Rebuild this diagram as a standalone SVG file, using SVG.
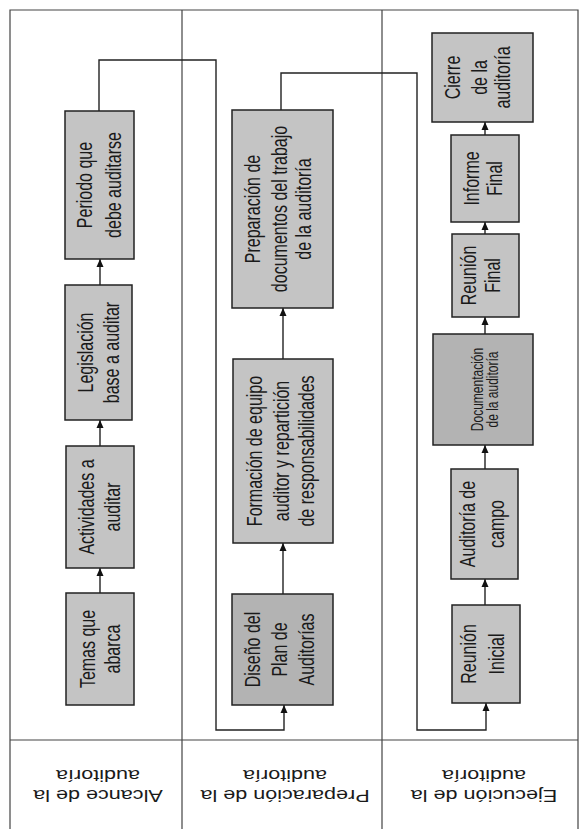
<svg xmlns="http://www.w3.org/2000/svg" width="581" height="829" viewBox="0 0 581 829">
<style>
.frame{fill:none;stroke:#444;stroke-width:1.2}
.box{fill:#c4c4c4;stroke:#222;stroke-width:1.5}
.dark{fill:#b3b3b3}
.conn{fill:none;stroke:#222;stroke-width:1.4}
.t{font-family:"Liberation Sans",Arial,sans-serif;font-size:16px;fill:#1a1a1a;text-anchor:middle}
.s{font-size:12px}
</style>
<defs>
<marker id="ah" markerUnits="userSpaceOnUse" markerWidth="8" markerHeight="8" refX="8" refY="4" orient="auto">
<path d="M0,0.5 L8,4 L0,7.5 z" fill="#111"/>
</marker>
</defs>
<rect width="581" height="829" fill="#fff"/>
<g id="frame">
<path class="frame" d="M10,829 V10 H578 V829 M182,10 V829 M382,10 V829 M10,740 H578"/>
</g>
<g id="headers">
<text class="t" transform="translate(98,785) rotate(180) scale(1.35,1)"><tspan x="0" y="-5.2">Alcance de la</tspan><tspan x="0" y="14.8">auditoría</tspan></text>
<text class="t" transform="translate(285,785) rotate(180) scale(1.35,1)"><tspan x="0" y="-5.2">Preparación de la</tspan><tspan x="0" y="14.8">auditoría</tspan></text>
<text class="t" transform="translate(484,785) rotate(180) scale(1.35,1)"><tspan x="0" y="-5.2">Ejecución de la</tspan><tspan x="0" y="14.8">auditoría</tspan></text>
</g>
<g id="connectors">
<line class="conn" x1="100" y1="593" x2="100" y2="568" marker-end="url(#ah)"/>
<line class="conn" x1="100" y1="446" x2="100" y2="420" marker-end="url(#ah)"/>
<line class="conn" x1="100" y1="285" x2="100" y2="259" marker-end="url(#ah)"/>
<path class="conn" d="M99,111 V60 H216 V730 H284 V705" marker-end="url(#ah)"/>
<line class="conn" x1="283" y1="594" x2="283" y2="543" marker-end="url(#ah)"/>
<line class="conn" x1="283" y1="359" x2="283" y2="308" marker-end="url(#ah)"/>
<path class="conn" d="M281,110 V73 H417 V730 H486 V703" marker-end="url(#ah)"/>
<line class="conn" x1="485" y1="605" x2="485" y2="579" marker-end="url(#ah)"/>
<line class="conn" x1="485" y1="469" x2="485" y2="445" marker-end="url(#ah)"/>
<line class="conn" x1="485" y1="334" x2="485" y2="317" marker-end="url(#ah)"/>
<line class="conn" x1="485" y1="234" x2="485" y2="222" marker-end="url(#ah)"/>
<line class="conn" x1="485" y1="135" x2="485" y2="122" marker-end="url(#ah)"/>
</g>
<g id="temas">
<rect class="box" x="66" y="593" width="68" height="112"/>
<text class="t" transform="translate(100,649) rotate(-90) scale(1,1.35)"><tspan x="0" y="-3.5">Temas que</tspan><tspan x="0" y="14.6">abarca</tspan></text>
</g>
<g id="actividades">
<rect class="box" x="66" y="446" width="68" height="122"/>
<text class="t" transform="translate(100,507) rotate(-90) scale(1,1.35)"><tspan x="0" y="-4.1">Actividades a</tspan><tspan x="0" y="14.6">auditar</tspan></text>
</g>
<g id="legislacion">
<rect class="box" x="65" y="285" width="67" height="135"/>
<text class="t" transform="translate(99,352.5) rotate(-90) scale(1,1.35)"><tspan x="0" y="-4.4">Legislación</tspan><tspan x="0" y="15">base a auditar</tspan></text>
</g>
<g id="periodo">
<rect class="box" x="65" y="111" width="69" height="148"/>
<text class="t" transform="translate(100,185) rotate(-90) scale(1,1.35)"><tspan x="0" y="-5.6">Periodo que</tspan><tspan x="0" y="15.2">debe auditarse</tspan></text>
</g>
<g id="diseno">
<rect class="box dark" x="232" y="594" width="101" height="111"/>
<text class="t" transform="translate(283,649.5) rotate(-90) scale(1,1.35)"><tspan x="0" y="-16.7">Diseño del</tspan><tspan x="0" y="3.3">Plan de</tspan><tspan x="0" y="22.6">Auditorías</tspan></text>
</g>
<g id="formacion">
<rect class="box" x="233" y="359" width="100" height="184"/>
<text class="t" transform="translate(283,451) rotate(-90) scale(1,1.35)"><tspan x="0" y="-15.6">Formación de equipo</tspan><tspan x="0" y="4.1">auditor y repartición</tspan><tspan x="0" y="22.6">de responsabilidades</tspan></text>
</g>
<g id="preparacion">
<rect class="box" x="232" y="110" width="101" height="198"/>
<text class="t" transform="translate(283,209) rotate(-90) scale(1,1.35)"><tspan x="0" y="-16.7">Preparación de</tspan><tspan x="0" y="2.6">documentos del trabajo</tspan><tspan x="0" y="21.1">de la auditoría</tspan></text>
</g>
<g id="reunion-inicial">
<rect class="box" x="452" y="605" width="68" height="98"/>
<text class="t" transform="translate(486,654) rotate(-90) scale(1,1.35)"><tspan x="0" y="-7.1">Reunión</tspan><tspan x="0" y="13">Inicial</tspan></text>
</g>
<g id="auditoria-campo">
<rect class="box" x="451" y="469" width="67" height="110"/>
<text class="t" transform="translate(484.5,524) rotate(-90) scale(1,1.35)"><tspan x="0" y="-7.4">Auditoría de</tspan><tspan x="0" y="14.1">campo</tspan></text>
</g>
<g id="documentacion">
<rect class="box dark" x="433" y="334" width="100" height="111"/>
<text class="t s" transform="translate(483,389.5) rotate(-90) scale(1,1.35)"><tspan x="0" y="-0.1">Documentación</tspan><tspan x="0" y="11">de la auditoría</tspan></text>
</g>
<g id="reunion-final">
<rect class="box" x="452" y="234" width="67" height="83"/>
<text class="t" transform="translate(485.5,275.5) rotate(-90) scale(1,1.35)"><tspan x="0" y="-6.7">Reunión</tspan><tspan x="0" y="11.1">Final</tspan></text>
</g>
<g id="informe-final">
<rect class="box" x="451" y="135" width="68" height="87"/>
<text class="t" transform="translate(485,178.5) rotate(-90) scale(1,1.35)"><tspan x="0" y="-4.1">Informe</tspan><tspan x="0" y="12.9">Final</tspan></text>
</g>
<g id="cierre">
<rect class="box" x="432" y="33" width="101" height="89"/>
<text class="t" transform="translate(482.5,77.5) rotate(-90) scale(1,1.35)"><tspan x="0" y="-16.3">Cierre</tspan><tspan x="0" y="3">de la</tspan><tspan x="0" y="20.7">auditoría</tspan></text>
</g>
</svg>
